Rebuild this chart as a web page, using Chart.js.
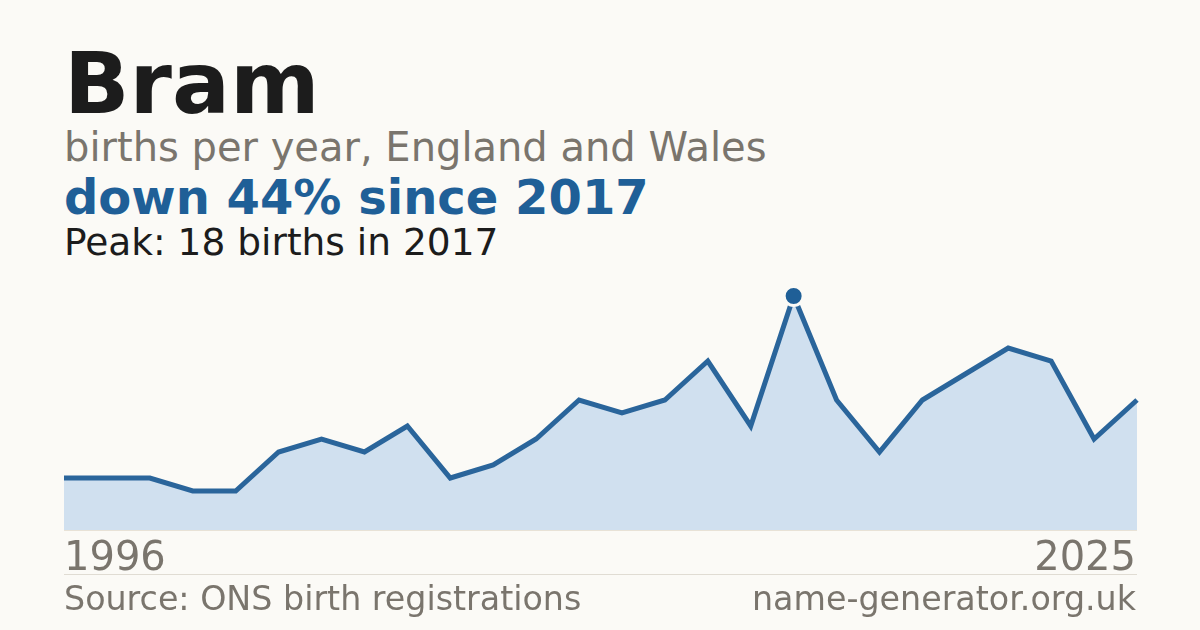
<!DOCTYPE html>
<html>
<head>
<meta charset="utf-8">
<script src="https://cdn.jsdelivr.net/npm/chart.js@4/dist/chart.umd.min.js"></script>
<style>
  html, body { margin:0; padding:0; background:#fbfaf6; }
  body { width:1200px; height:630px; position:relative; overflow:hidden; font-family:"DejaVu Sans", sans-serif; }
  .t { position:absolute; line-height:1; white-space:nowrap; }
  #c { position:absolute; left:0; top:0; }
  .rule { position:absolute; height:1px; }
</style>
</head>
<body>
<div class="t" id="title" style="left:64px; top:40px; font-size:86px; font-weight:bold; color:#1c1c1c;">Bram</div>
<div class="t" id="sub" style="left:64px; top:127px; font-size:40px; color:#7a756d;">births per year, England and Wales</div>
<div class="t" id="trend" style="left:64px; top:173px; font-size:48px; font-weight:bold; color:#1f5f97;">down 44% since 2017</div>
<div class="t" id="peak" style="left:64px; top:224px; font-size:37.5px; color:#1c1c1c;">Peak: 18 births in 2017</div>
<div class="rule" style="left:64px; top:530px; width:1073px; background:#e8e2d6;"></div>
<canvas id="c" width="1200" height="630"></canvas>
<div class="t" id="tickL" style="left:64px; top:536px; font-size:40px; color:#7a756d;"></div>
<div class="t" id="tickR" style="right:64px; top:536px; font-size:40px; color:#7a756d;"></div>
<div class="rule" style="left:64px; top:574px; width:1073px; background:#e0dcd3;"></div>
<div class="t" style="left:64px; top:582px; font-size:33.3px; color:#7a756d;">Source: ONS birth registrations</div>
<div class="t" style="right:64px; top:582px; font-size:33.3px; color:#7a756d;">name-generator.org.uk</div>
<script>
const years = [1996,1997,1998,2001,2002,2003,2004,2005,2006,2007,2008,2009,2010,2013,2014,2015,2016,2017,2018,2019,2020,2021,2022,2023,2024,2025];
const births = [4,4,4,3,3,6,7,6,8,4,5,7,10,9,10,13,8,18,10,6,10,12,14,13,7,10];
const tickLabels = ["1996","2025"];

document.getElementById('tickL').textContent = tickLabels[0];
document.getElementById('tickR').textContent = tickLabels[1];

const peakIdx = births.indexOf(Math.max(...births));

new Chart(document.getElementById('c'), {
  type: 'line',
  data: {
    labels: years.map(String),
    datasets: [{
      data: births,
      borderColor: '#2a659b',
      borderWidth: 5,
      backgroundColor: '#d0e0ef',
      fill: 'origin',
      tension: 0,
      pointRadius: ctx => ctx.dataIndex === peakIdx ? 9.5 : 0,
      pointHoverRadius: 0,
      pointBackgroundColor: '#1f5f97',
      pointBorderColor: '#fbfaf6',
      pointBorderWidth: 3,
      clip: false
    }]
  },
  options: {
    responsive: false,
    animation: false,
    events: [],
    layout: { padding: { left: 64, right: 63, top: 270, bottom: 100 } },
    plugins: { legend: { display: false }, tooltip: { enabled: false } },
    scales: {
      x: { display: false, offset: false },
      y: { display: false, min: 0, max: 20 }
    }
  }
});
</script>
</body>
</html>
